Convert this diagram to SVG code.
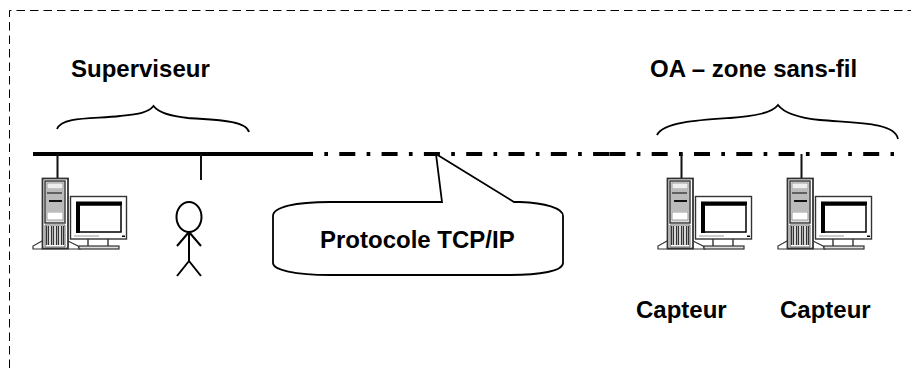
<svg xmlns="http://www.w3.org/2000/svg" xmlns:xlink="http://www.w3.org/1999/xlink" width="911" height="368" viewBox="0 0 911 368">
<style>
text{font-family:"Liberation Sans",Arial,sans-serif;font-weight:bold;font-size:24px;fill:#000}
.ln{fill:none;stroke:#000;stroke-width:1.800}
.thin{fill:none;stroke:#111;stroke-width:2}
.net{fill:none;stroke:#000;stroke-width:4;stroke-dasharray:16 11.3 3.7 11.3}
.pc{fill:#fff;stroke:#333;stroke-width:1.200}
</style>
<defs>
<g id="pc">
<path class="pc" d="M42 241L33 246V249H80L78 246L68 241Z"/>
<rect class="pc" x="42.500" y="178.500" width="25.500" height="70" style="stroke-width:1.800"/>
<rect x="45" y="181" width="20" height="42" fill="#ddd" stroke="#333" stroke-width="1.400"/>
<rect x="47" y="183" width="16" height="6" fill="#eee" stroke="#888" stroke-width=".8"/>
<rect x="46" y="190" width="18" height="8" fill="#bbb"/>
<path d="M47 193H62" stroke="#222" stroke-width="1.200"/>
<rect x="46" y="198" width="18" height="13" fill="#bbb"/>
<path d="M49 201H62" stroke="#111" stroke-width="2"/>
<rect x="47" y="212" width="16" height="8" fill="#fff" stroke="#888" stroke-width=".8"/>
<path d="M45 225H65V247H45Z" fill="#fff" stroke="#444" stroke-width=".8"/>
<path d="M46.500 226V245M48.500 226V245M51.500 226V245M53.500 226V245M56.500 226V245M58.500 226V245M61.500 226V245M63.500 226V245" stroke="#333" stroke-width="1.400"/>
<rect class="pc" x="70.500" y="196.500" width="56" height="42.500" style="stroke-width:1.400"/>
<rect x="79" y="205" width="42" height="27" fill="#fff" stroke="#000" stroke-width="1.500"/>
<path d="M76 201.500H122V205H80V233H76Z" fill="#000"/>
<path class="pc" d="M88 239V246M108 239V246" style="stroke-width:1.400"/>
<rect x="79" y="246" width="40" height="3" fill="#ddd" stroke="#333" stroke-width="1.200"/>
<rect x="74" y="235" width="25" height="2" fill="#ccc"/>
<rect x="122" y="235.500" width="3" height="1.500" fill="#000"/>
</g>
</defs>
<g id="border"><path d="M9.500 368V10.500H911" fill="none" stroke="#000" stroke-width="1" stroke-dasharray="8.500 5"/></g>
<g id="connectors">
<path d="M33 154H298" fill="none" stroke="#000" stroke-width="4"/>
<path class="net" d="M297 154H609"/>
<path class="net" d="M609.400 154H894"/>
<path class="thin" d="M57.500 154V179M201 154V180M681.500 154V179M801.500 154V179"/>
</g>
<g id="brace-superviseur"><path class="ln" d="M57 129C62 116 95 119 120 116C138 114 148 113 153.500 106C159 113 170 116 188 118C215 120 246 120 249 132"/></g>
<g id="brace-oa"><path class="ln" d="M657 135C663 122 700 120 730 118C755 116 772 113 778 105C784 113 800 118 820 120C855 123 895 122 898 139"/></g>
<g id="superviseur-label"><text x="71" y="77">Superviseur</text></g>
<g id="oa-label"><text x="650" y="77">OA – zone sans-fil</text></g>
<g id="poste-superviseur"><use href="#pc"/></g>
<g id="utilisateur">
<ellipse class="ln" cx="189" cy="217" rx="12.500" ry="15" style="stroke-width:2"/>
<path class="ln" style="stroke-width:2" d="M189 232V261M189 232L177 246M189 232L201 246M189 261L177 276M189 261L201 276"/>
</g>
<g id="protocole">
<path fill="#fff" stroke="#000" stroke-width="1.800" d="M442 202L436 154L514 202H520C545 203 563 208 563 216V263C563 271 540 275 510 275H330C295 275 273 270 273 263V216C273 207 295 202 330 202Z"/>
<text x="320" y="248">Protocole TCP/IP</text>
</g>
<g id="capteur-1"><use href="#pc" x="625"/><text x="636" y="318">Capteur</text></g>
<g id="capteur-2"><use href="#pc" x="745"/><text x="780" y="318">Capteur</text></g>
</svg>
